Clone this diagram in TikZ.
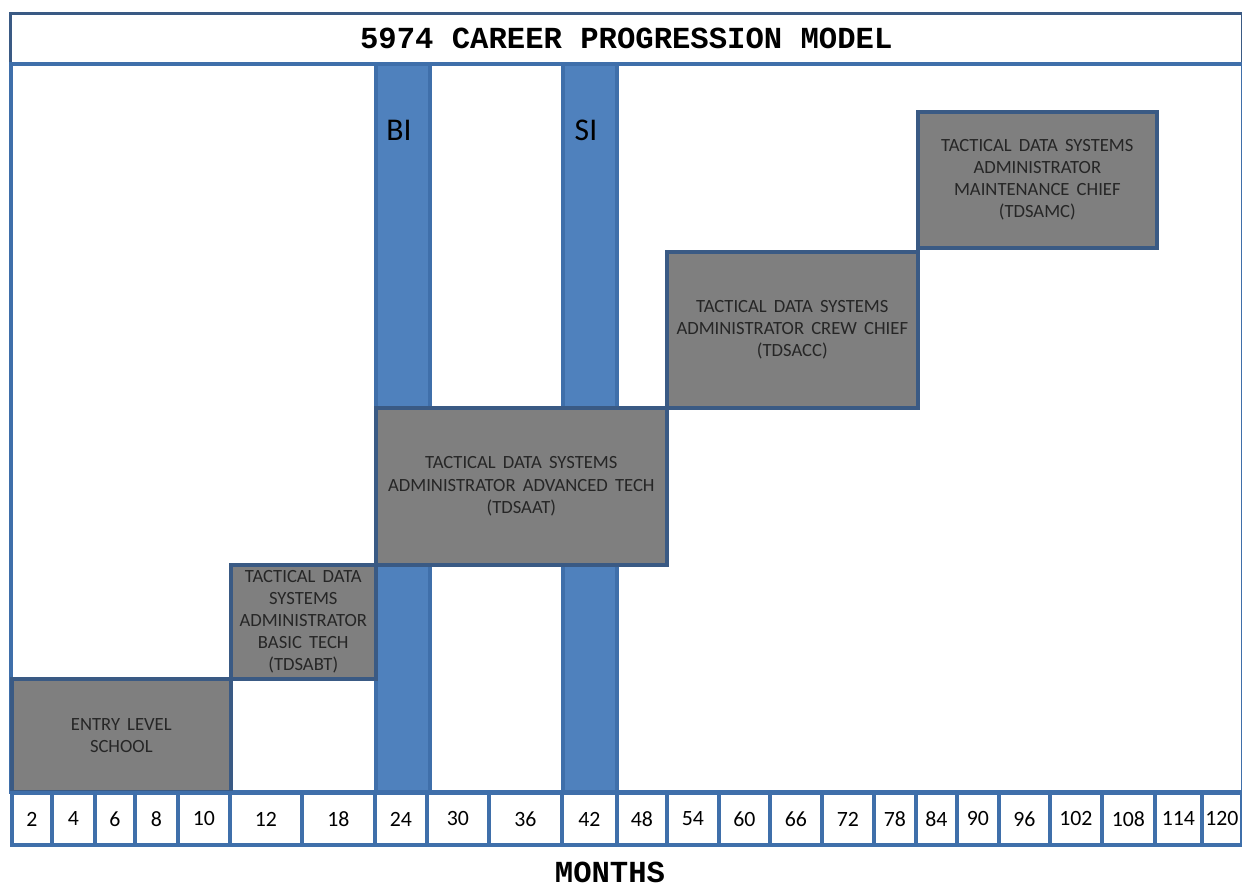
\documentclass[tikz,border=0pt]{standalone}
\usepackage{fontspec}
\setmainfont{Carlito}
\newfontfamily\boxfont{Carlito}[WordSpace=1.7]
\newfontfamily\titlefont{Liberation Mono}
\usetikzlibrary{positioning}
\definecolor{barblue}{HTML}{4F81BD}
\definecolor{edgeblue}{HTML}{3F6FAA}
\definecolor{boxgray}{HTML}{7F7F7F}
\definecolor{boxedge}{HTML}{3A5A84}

\begin{document}
\begin{tikzpicture}[x=0.01cm, y=-0.01cm,
    stage/.style = {draw=boxedge, fill=boxgray, line width=1pt, inner sep=0pt, anchor=north west,
                    align=center, text=black!85, font=\boxfont\fontsize{5.3}{6.3}\selectfont},
    bar/.style = {draw=edgeblue, fill=barblue, line width=1pt, inner sep=0pt, anchor=north west,
                  minimum width=0.54cm, minimum height=7.28cm},
    cell/.style = {draw=edgeblue, fill=white, line width=1.1pt, inner sep=0pt, anchor=north west,
                   minimum height=0.52cm, font=\fontsize{6.2}{7}\selectfont},
    heading/.style = {font=\titlefont\bfseries\fontsize{8.7}{10}\selectfont}]
    \useasboundingbox (0,0) rectangle (1242,884);

    % frame and title
    \node[draw=boxedge, line width=0.8pt, inner sep=0pt, anchor=north west,
          minimum width=12.31cm, minimum height=0.5cm] (title) at (9,12) {};
    \node[heading] (titletext) at (title.center) {5974 CAREER PROGRESSION MODEL};
    \node[draw=edgeblue, line width=1pt, inner sep=0pt, anchor=north west,
          minimum width=12.31cm, minimum height=7.28cm] (frame) at (9,62) {};

    % BI and SI bars
    \node[bar] (bi) at (374,62) {};
    \node[bar] (si) at (561,62) {};
    \node[font=\fontsize{9}{10}\selectfont] (bilabel) at (399,130) {BI};
    \node[font=\fontsize{9}{10}\selectfont] (silabel) at (586,130) {SI};

    % career stages
    \node[stage, minimum width=2.19cm, minimum height=1.13cm] (entry) at (10,677)
        {ENTRY LEVEL\\SCHOOL};
    \node[stage, minimum width=1.45cm, minimum height=1.14cm] (basic) at (229,563)
        {TACTICAL DATA\\SYSTEMS\\ADMINISTRATOR\\BASIC TECH\\(TDSABT)};
    \node[stage, minimum width=2.91cm, minimum height=1.57cm] (advanced) at (374,406)
        {TACTICAL DATA SYSTEMS\\ADMINISTRATOR ADVANCED TECH\\(TDSAAT)};
    \node[stage, minimum width=2.51cm, minimum height=1.56cm] (crew) at (665,250)
        {TACTICAL DATA SYSTEMS\\ADMINISTRATOR CREW CHIEF\\(TDSACC)};
    \node[stage, minimum width=2.39cm, minimum height=1.36cm] (maint) at (916,110)
        {TACTICAL DATA SYSTEMS\\ADMINISTRATOR\\MAINTENANCE CHIEF\\(TDSAMC)};

    % months axis
    \foreach \a/\b/\m in {10/50/2, 50/93/4, 93/133/6, 133/176/8, 176/228/10, 228/300/12,
        300/373/18, 373/425/24, 425/487/30, 487/560/36, 560/615/42, 615/665/48,
        665/717/54, 717/768/60, 768/820/66, 820/872/72, 872/914/78, 914/955/84,
        955/997/90, 997/1048/96, 1048/1100/102, 1100/1153/108, 1153/1200/114, 1200/1240/120}
        \node[cell, minimum width={(\b-\a)*0.01cm}] (m\m) at (\a,791) {\m};
    \node[heading] (months) at (610,872) {MONTHS};
\end{tikzpicture}
\end{document}
